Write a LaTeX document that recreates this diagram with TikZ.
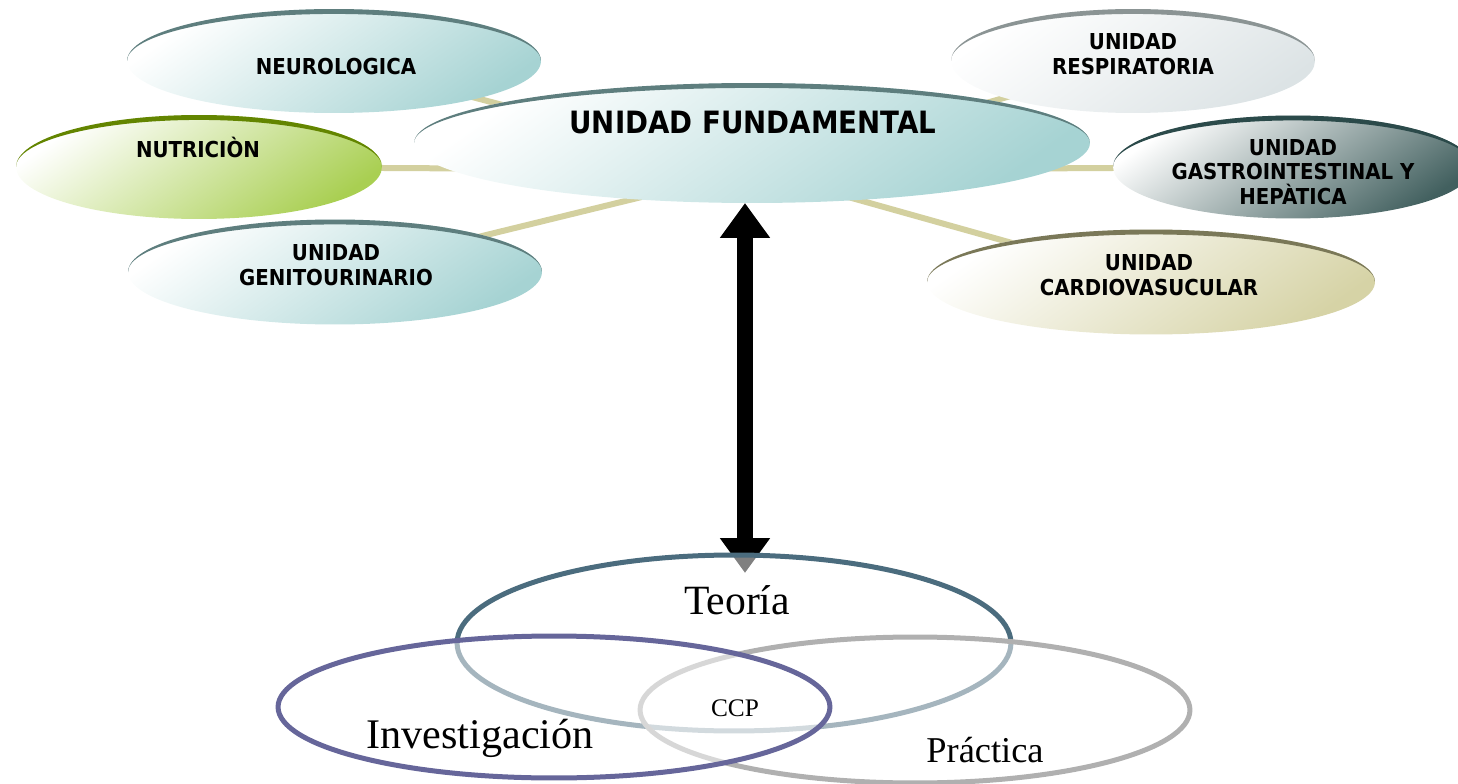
\documentclass[tikz,border=0pt]{standalone}
\usepackage{fontspec}
\setmainfont{Liberation Serif}
\newfontfamily\unitfont[FakeStretch=0.9]{DejaVu Sans}
\usetikzlibrary{shapes,arrows.meta,calc,backgrounds}
\definecolor{tealFill}{HTML}{A6D3D3}
\definecolor{tealRim}{HTML}{5E7E7E}
\definecolor{greenFill}{HTML}{A9CF52}
\definecolor{greenRim}{HTML}{638500}
\definecolor{greyFill}{HTML}{DCE3E5}
\definecolor{greyRim}{HTML}{8B9494}
\definecolor{slateFill}{HTML}{42605F}
\definecolor{slateRim}{HTML}{2B4A4A}
\definecolor{khakiFill}{HTML}{D6D3A6}
\definecolor{khakiRim}{HTML}{7A7858}
\definecolor{linkC}{HTML}{D3D09F}
\definecolor{teoriaC}{HTML}{4B6C7E}
\definecolor{investC}{HTML}{66669A}
\definecolor{practC}{HTML}{B0B0B0}

% dark rim on the upper half of an ellipse node
\newcommand{\rimArc}[2]{%
  \fill[#2] let \p1=(#1.east), \p2=(#1.north), \p3=(#1.center) in
    (#1.west) arc[start angle=180, end angle=0, x radius={\x1-\x3}, y radius={\y2-\y3}]
    arc[start angle=0, end angle=180, x radius={\x1-\x3}, y radius={\y2-\y3-2.8pt}] -- cycle;}

\begin{document}
\begin{tikzpicture}[x=0.02cm, y=-0.02cm,
    unit/.style={ellipse, inner sep=0pt, outer sep=0pt, left color=white, right color=#1, shading angle=35},
    unitTxt/.style={font=\unitfont\bfseries\fontsize{12.5}{14}\selectfont, align=center},
    bigTxt/.style={font=\unitfont\bfseries\fontsize{17.5}{20}\selectfont},
    link/.style={draw=linkC, line width=0.12cm},
    ring/.style={ellipse, draw=#1, line width=0.1cm, fill=white, fill opacity=0.5, inner sep=0pt, outer sep=0pt},
    venTxt/.style={font=\fontsize{#1}{#1}\selectfont},
    bigArrow/.style={{Triangle[length=0.7cm,width=0.96cm]}-{Triangle[length=0.7cm,width=0.96cm]}, line width=0.32cm}
  ]
  \useasboundingbox (0,0) rectangle (1458,784);

  % units around the fundamental one
  \node[unit=tealFill, minimum width=8.28cm, minimum height=2.08cm] (neuro) at (334,61) {};
  \node[unit=greenFill, minimum width=7.32cm, minimum height=2.08cm] (nutri) at (199,167) {};
  \node[unit=tealFill, minimum width=8.28cm, minimum height=2.1cm] (genito) at (335,272) {};
  \node[unit=greyFill, minimum width=7.28cm, minimum height=2.08cm] (resp) at (1133,61) {};
  \node[unit=slateFill, minimum width=7.2cm, minimum height=2.06cm] (gastro) at (1293,167) {};
  \node[unit=khakiFill, minimum width=8.96cm, minimum height=2.1cm] (cardio) at (1151,282) {};
  \node[unit=tealFill, minimum width=13.52cm, minimum height=2.4cm] (fund) at (752,143) {};
  \coordinate (hub) at (752,170);

  \begin{scope}[on background layer]
    \draw[link] (hub) -- (neuro.center);
    \draw[link] (hub) -- (nutri.center);
    \draw[link] (hub) -- (genito.center);
    \draw[link] (hub) -- (resp.center);
    \draw[link] (hub) -- (gastro.center);
    \draw[link] (hub) -- (cardio.center);
  \end{scope}

  \rimArc{neuro}{tealRim}
  \rimArc{nutri}{greenRim}
  \rimArc{genito}{tealRim}
  \rimArc{resp}{greyRim}
  \rimArc{gastro}{slateRim}
  \rimArc{cardio}{khakiRim}
  \rimArc{fund}{tealRim}

  \node[unitTxt] (neuroTxt) at (336,67) {NEUROLOGICA};
  \node[unitTxt] (nutriTxt) at (198,147) {NUTRICIÒN};
  \node[unitTxt] (genitoTxt) at (336,265) {UNIDAD\\GENITOURINARIO};
  \node[unitTxt] (respTxt) at (1133,54) {UNIDAD\\RESPIRATORIA};
  \node[unitTxt] (gastroTxt) at (1293,172) {UNIDAD\\GASTROINTESTINAL Y\\HEPÀTICA};
  \node[unitTxt] (cardioTxt) at (1149,275) {UNIDAD\\CARDIOVASUCULAR};
  \node[bigTxt] (fundTxt) at (753,123) {UNIDAD FUNDAMENTAL};

  % link to the three circles
  \coordinate (arrTop) at (745,203);
  \coordinate (arrBot) at (745,573);
  \draw[bigArrow] (arrTop) -- (arrBot);

  \node[ring=teoriaC, minimum width=11.08cm, minimum height=3.52cm] (teoria) at (734,643) {};
  \node[ring=practC, minimum width=11cm, minimum height=2.92cm] (practica) at (915,710) {};
  \node[ring=investC, minimum width=11.04cm, minimum height=2.84cm] (invest) at (554,707) {};

  \node[venTxt=23.7] (teoriaTxt) at (737,600) {Teoría};
  \node[venTxt=24] (investTxt) at (480,738) {Investigación};
  \node[venTxt=20.7] (practTxt) at (985,750) {Práctica};
  \node[venTxt=14.4] (ccpTxt) at (735,708) {CCP};
\end{tikzpicture}
\end{document}
